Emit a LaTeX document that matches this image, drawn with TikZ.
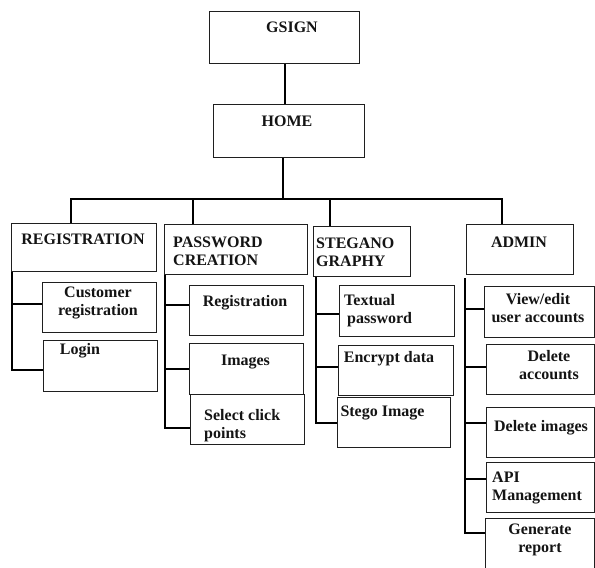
\documentclass[tikz,border=0pt]{standalone}
\usepackage{fontspec}
\setmainfont{Liberation Serif}
\usetikzlibrary{calc}
\begin{document}
\begin{tikzpicture}[x=1pt,y=-1pt,
  box/.style={draw=black!88, line width=1.3pt, rectangle, inner sep=0pt, anchor=north west},
  conn/.style={draw=black, line width=2.3pt},
  txt/.style={font=\fontsize{16}{18}\selectfont\bfseries, text=black!92, inner sep=0pt},
  ltxt/.style={txt, align=left, anchor=west},
  ctxt/.style={txt, align=center}]
\fill[white] (0,0) rectangle (595,568);
\useasboundingbox (0,0) rectangle (595,568);
% boxes: name, x1,y1, w, h
\newcommand{\bx}[5]{\node[box, minimum width=#4pt, minimum height=#5pt] (#1) at (#2,#3) {};}
\bx{gsign}{209}{11}{150}{52}
\bx{home}{213}{104}{151}{53}
\bx{reg}{11}{223}{145}{48}
\bx{pw}{164}{224}{143}{50}
\bx{steg}{313}{226}{97}{50}
\bx{admin}{466}{224}{107}{50}
\bx{custreg}{42}{282}{114}{50}
\bx{login}{43}{340}{114}{51}
\bx{pwreg}{189}{285}{114}{50}
\bx{images}{189}{343}{114}{51}
\bx{select}{190}{394}{114}{50}
\bx{textual}{339}{285}{115}{51}
\bx{encrypt}{338}{345}{115}{50}
\bx{stego}{337}{397}{113}{50}
\bx{view}{484}{286}{110}{51}
\bx{delacc}{486}{344}{108}{50}
\bx{delimg}{486}{407}{108}{50}
\bx{api}{486}{462}{108}{50}
\bx{gen}{485}{518}{109}{72}
% texts
\node[ctxt] (t-gsign) at (292,27) {GSIGN};
\node[ctxt] (t-home) at (287,121) {HOME};
\node[ctxt] (t-reg) at (83,239) {REGISTRATION};
\node[ltxt] (t-pw) at (173,251.5) {PASSWORD\\CREATION};
\node[ltxt] (t-steg) at (316,252) {STEGANO\\GRAPHY};
\node[ctxt] (t-admin) at (519,242) {ADMIN};
\node[ctxt] (t-custreg) at (98,303) {Customer\\registration};
\node[ctxt] (t-login) at (80,351) {Login};
\node[ctxt] (t-pwreg) at (245,303) {Registration};
\node[ctxt] (t-images) at (245.5,362) {Images};
\node[ltxt] (t-select) at (204,425.5) {Select click\\points};
\node[ltxt] (t-textual) at (344,310.5) {Textual\\\hspace*{3pt}password};
\node[ctxt] (t-encrypt) at (389,359) {Encrypt data};
\node[ctxt] (t-stego) at (382.5,413) {Stego Image};
\node[ctxt] (t-view) at (538,308.5) {View/edit\\user accounts};
\node[ctxt] (t-delacc) at (549,365) {Delete\\accounts};
\node[ctxt] (t-delimg) at (541,428) {Delete images};
\node[ltxt] (t-api) at (492,487.5) {API\\Management};
\node[ctxt] (t-gen) at (540,540) {Generate\\report};
% top connectors
\coordinate (bus) at (283,199);
\coordinate (busL) at (71,199);
\coordinate (busB) at (193,199);
\coordinate (busC) at (330,199);
\coordinate (busR) at (502,199);
\draw[conn] (gsign.south) -- (gsign.south |- home.north);
\draw[conn] (bus |- home.south) -- (bus);
\draw[conn, line cap=rect] (busL) -- (busR);
\draw[conn] (busL) -- (busL |- reg.north);
\draw[conn] (busB) -- (busB |- pw.north);
\draw[conn] (busC) -- (busC |- steg.north);
\draw[conn] (busR) -- (busR |- admin.north);
% registration spine
\coordinate (s1) at ($(reg.south west)+(1,0)$);
\draw[conn] (s1) |- ($(login.west)+(0,3.5)$);
\draw[conn] ($(s1 |- custreg.west)+(0,-4)$) -- ($(custreg.west)+(0,-4)$);
% password spine
\coordinate (s2) at ($(pw.south west)+(1,0)$);
\draw[conn] (s2) |- ($(select.west)+(0,8)$);
\draw[conn] ($(s2 |- pwreg.west)+(0,-6)$) -- ($(pwreg.west)+(0,-6)$);
\draw[conn] (s2 |- images.west) -- (images.west);
% stegano spine
\coordinate (s3) at ($(steg.south west)+(3,0)$);
\draw[conn] (s3) |- (stego.west);
\draw[conn] ($(s3 |- textual.west)+(0,2.5)$) -- ($(textual.west)+(0,2.5)$);
\draw[conn] ($(s3 |- encrypt.west)+(0,-4)$) -- ($(encrypt.west)+(0,-4)$);
% admin spine
\coordinate (s4) at ($(admin.south west)+(-1,3)$);
\draw[conn] (s4) |- ($(gen.north west)+(0,15)$);
\draw[conn] ($(s4 |- view.west)+(0,-3.5)$) -- ($(view.west)+(0,-3.5)$);
\draw[conn] ($(s4 |- delacc.west)+(0,-3)$) -- ($(delacc.west)+(0,-3)$);
\draw[conn] ($(s4 |- delimg.west)+(0,-10)$) -- ($(delimg.west)+(0,-10)$);
\draw[conn] ($(s4 |- api.west)+(0,-9)$) -- ($(api.west)+(0,-9)$);
\end{tikzpicture}
\end{document}
